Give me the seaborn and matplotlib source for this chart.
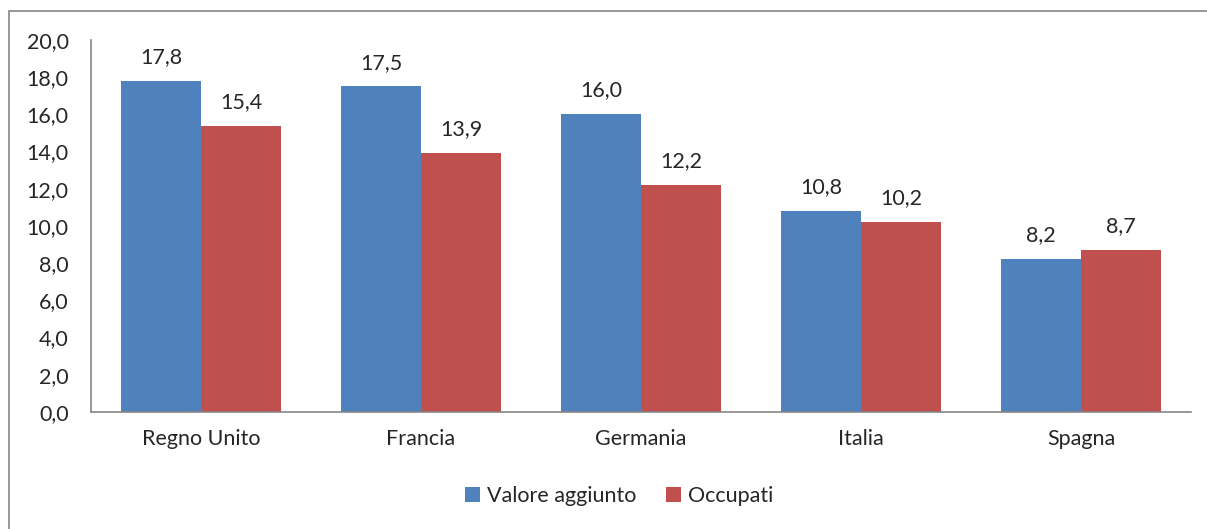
import pandas as pd
import matplotlib.pyplot as plt
import seaborn as sns
from matplotlib.patches import Rectangle

# Chart data
paesi = ['Regno Unito', 'Francia', 'Germania', 'Italia', 'Spagna']
valore_aggiunto = [17.8, 17.5, 16.0, 10.8, 8.2]
occupati = [15.4, 13.9, 12.2, 10.2, 8.7]
serie = ['Valore aggiunto', 'Occupati']

df = pd.DataFrame({
    'Paese': paesi * 2,
    'Serie': [serie[0]] * len(paesi) + [serie[1]] * len(paesi),
    'Valore': valore_aggiunto + occupati,
})

sns.set_style("white")
plt.rcParams['font.family'] = ['Lato', 'DejaVu Sans']
fs = 15.5

fig = plt.figure(figsize=(12.07, 5.29), dpi=100)
ax = fig.add_axes([0.0754, 0.2212, 0.9113, 0.7032])

sns.barplot(data=df, x='Paese', y='Valore', hue='Serie', order=paesi,
            hue_order=serie, palette=['#4F81BD', '#C0504D'],
            width=0.727, saturation=1, linewidth=0, ax=ax)

fmt = lambda v: f"{v:.1f}".replace('.', ',')
for cont in ax.containers:
    ax.bar_label(cont, labels=[fmt(v) for v in cont.datavalues],
                 padding=10, fontsize=fs)

ax.set_ylim(0, 20)
ax.set_yticks(range(0, 21, 2))
ax.set_yticklabels([fmt(v) for v in range(0, 21, 2)], fontsize=fs)
ax.tick_params(axis='x', labelsize=fs, pad=12, length=0)
ax.tick_params(axis='y', pad=16, length=0)
ax.set_xlabel('')
ax.set_ylabel('')
ax.set_xlim(-0.5, 4.5)

for s in ['top', 'right']:
    ax.spines[s].set_visible(False)
for s in ['left', 'bottom']:
    ax.spines[s].set_color('#868686')
    ax.spines[s].set_linewidth(1.2)

ax.legend(loc='center', bbox_to_anchor=(0.48, -0.225), ncol=2, frameon=False,
          fontsize=fs, handlelength=0.7, handleheight=0.7, handletextpad=0.3,
          columnspacing=1.4)

# outer border like the chart area frame
fig.patches.append(Rectangle((9 / 1207, -0.1), 1.2, 1.1 - 11 / 529,
                             transform=fig.transFigure, fill=False,
                             edgecolor='#868686', linewidth=1.2))

fig.savefig('out.png', dpi=100)
